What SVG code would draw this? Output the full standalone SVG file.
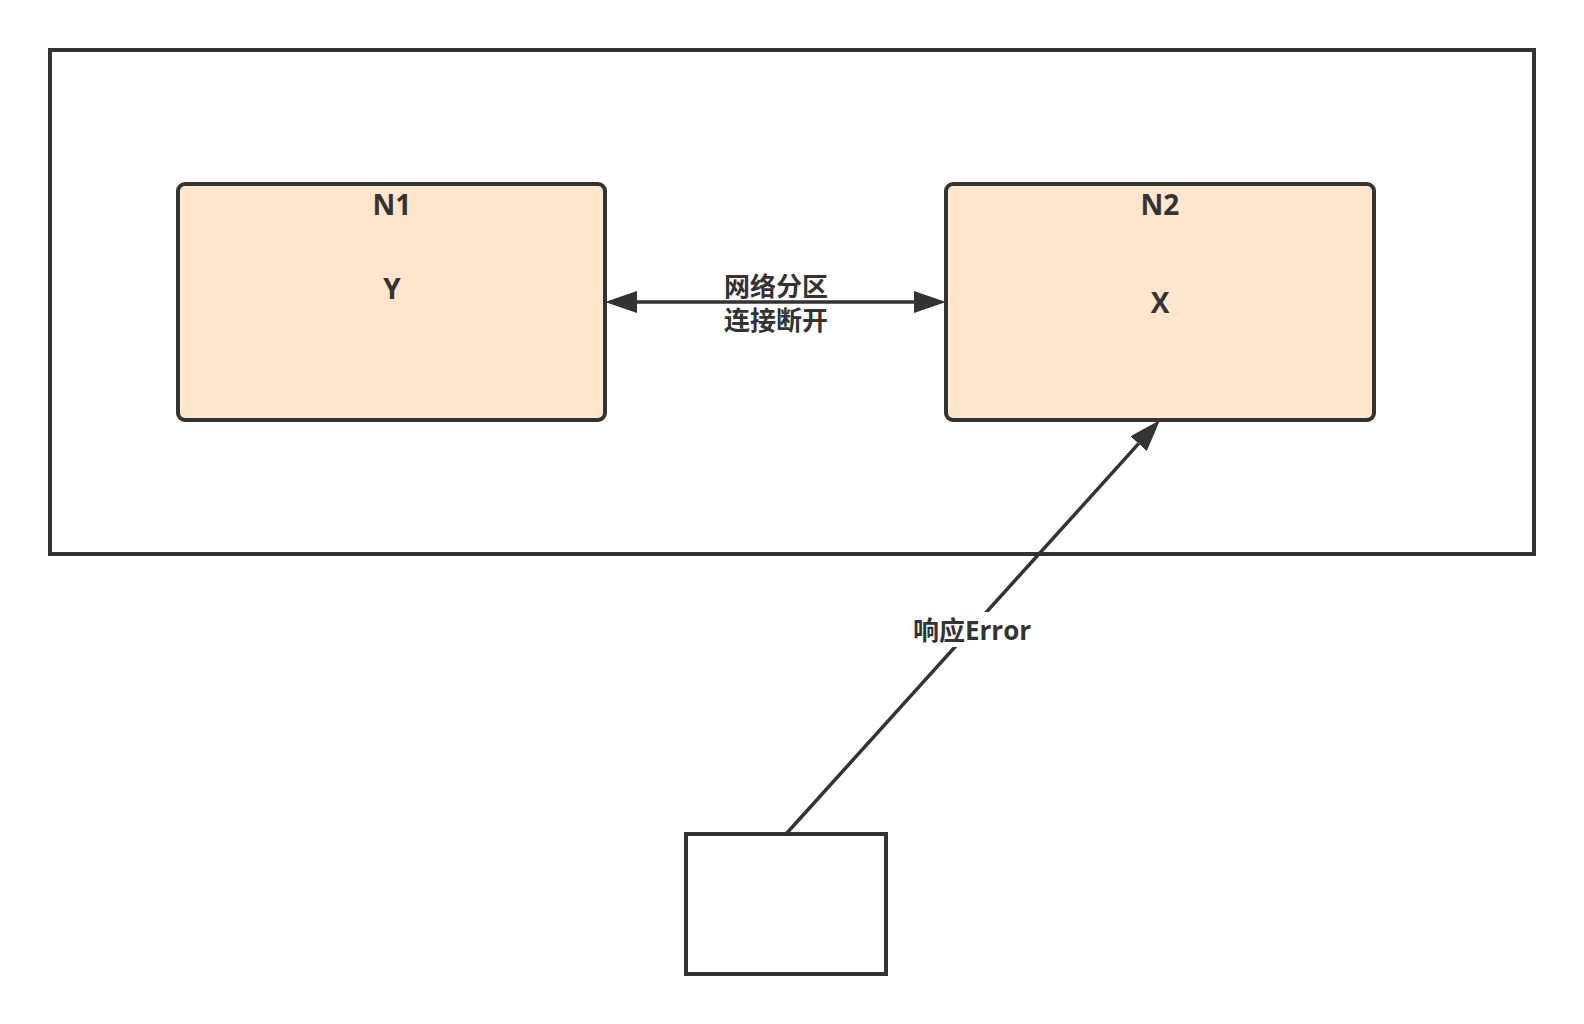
<svg xmlns="http://www.w3.org/2000/svg" width="1584" height="1024" viewBox="0 0 1584 1024">
<style>
.frame{fill:#ffffff;stroke:#333333;stroke-width:4}
.node{fill:#ffe6cc;stroke:#333333;stroke-width:4}
.conn{fill:none;stroke:#333333;stroke-width:3.5}
.t{font-family:"Open Sans","Noto Sans CJK SC",sans-serif;font-weight:bold;font-size:28px;fill:#333333;text-anchor:middle}
.lbl{font-family:"Open Sans","Noto Sans CJK SC",sans-serif;font-weight:bold;font-size:26px;fill:#333333;text-anchor:middle}
</style>
<defs>
<marker id="arr" viewBox="0 -11 32 22" refX="0" refY="0" markerWidth="32" markerHeight="22" markerUnits="userSpaceOnUse" orient="auto-start-reverse">
<path d="M0,-11 L32,0 L0,11 Z" fill="#333333"/>
</marker>
</defs>
<rect width="1584" height="1024" fill="#ffffff"/>
<g id="outer"><rect class="frame" x="50" y="50" width="1484" height="504"/></g>
<g id="n1"><rect class="node" x="178" y="184" width="427" height="236" rx="7"/><text class="t" x="392" y="215">N1</text><text class="t" x="392" y="299">Y</text></g>
<g id="n2"><rect class="node" x="946" y="184" width="428" height="236" rx="7"/><text class="t" x="1160" y="215">N2</text><text class="t" x="1160" y="313">X</text></g>
<g id="client"><rect class="frame" x="686" y="834" width="200" height="140"/></g>
<g id="connectors">
<line class="conn" x1="637" y1="302" x2="914" y2="302" marker-start="url(#arr)" marker-end="url(#arr)"/>
<text class="lbl" x="776" y="296">网络分区</text>
<text class="lbl" x="776" y="330">连接断开</text>
<line class="conn" x1="786" y1="834" x2="1138.6" y2="443.7" marker-end="url(#arr)"/>
<rect x="913" y="612" width="118" height="35" fill="#ffffff"/>
<text class="lbl" x="972" y="640">响应Error</text>
</g>
</svg>
